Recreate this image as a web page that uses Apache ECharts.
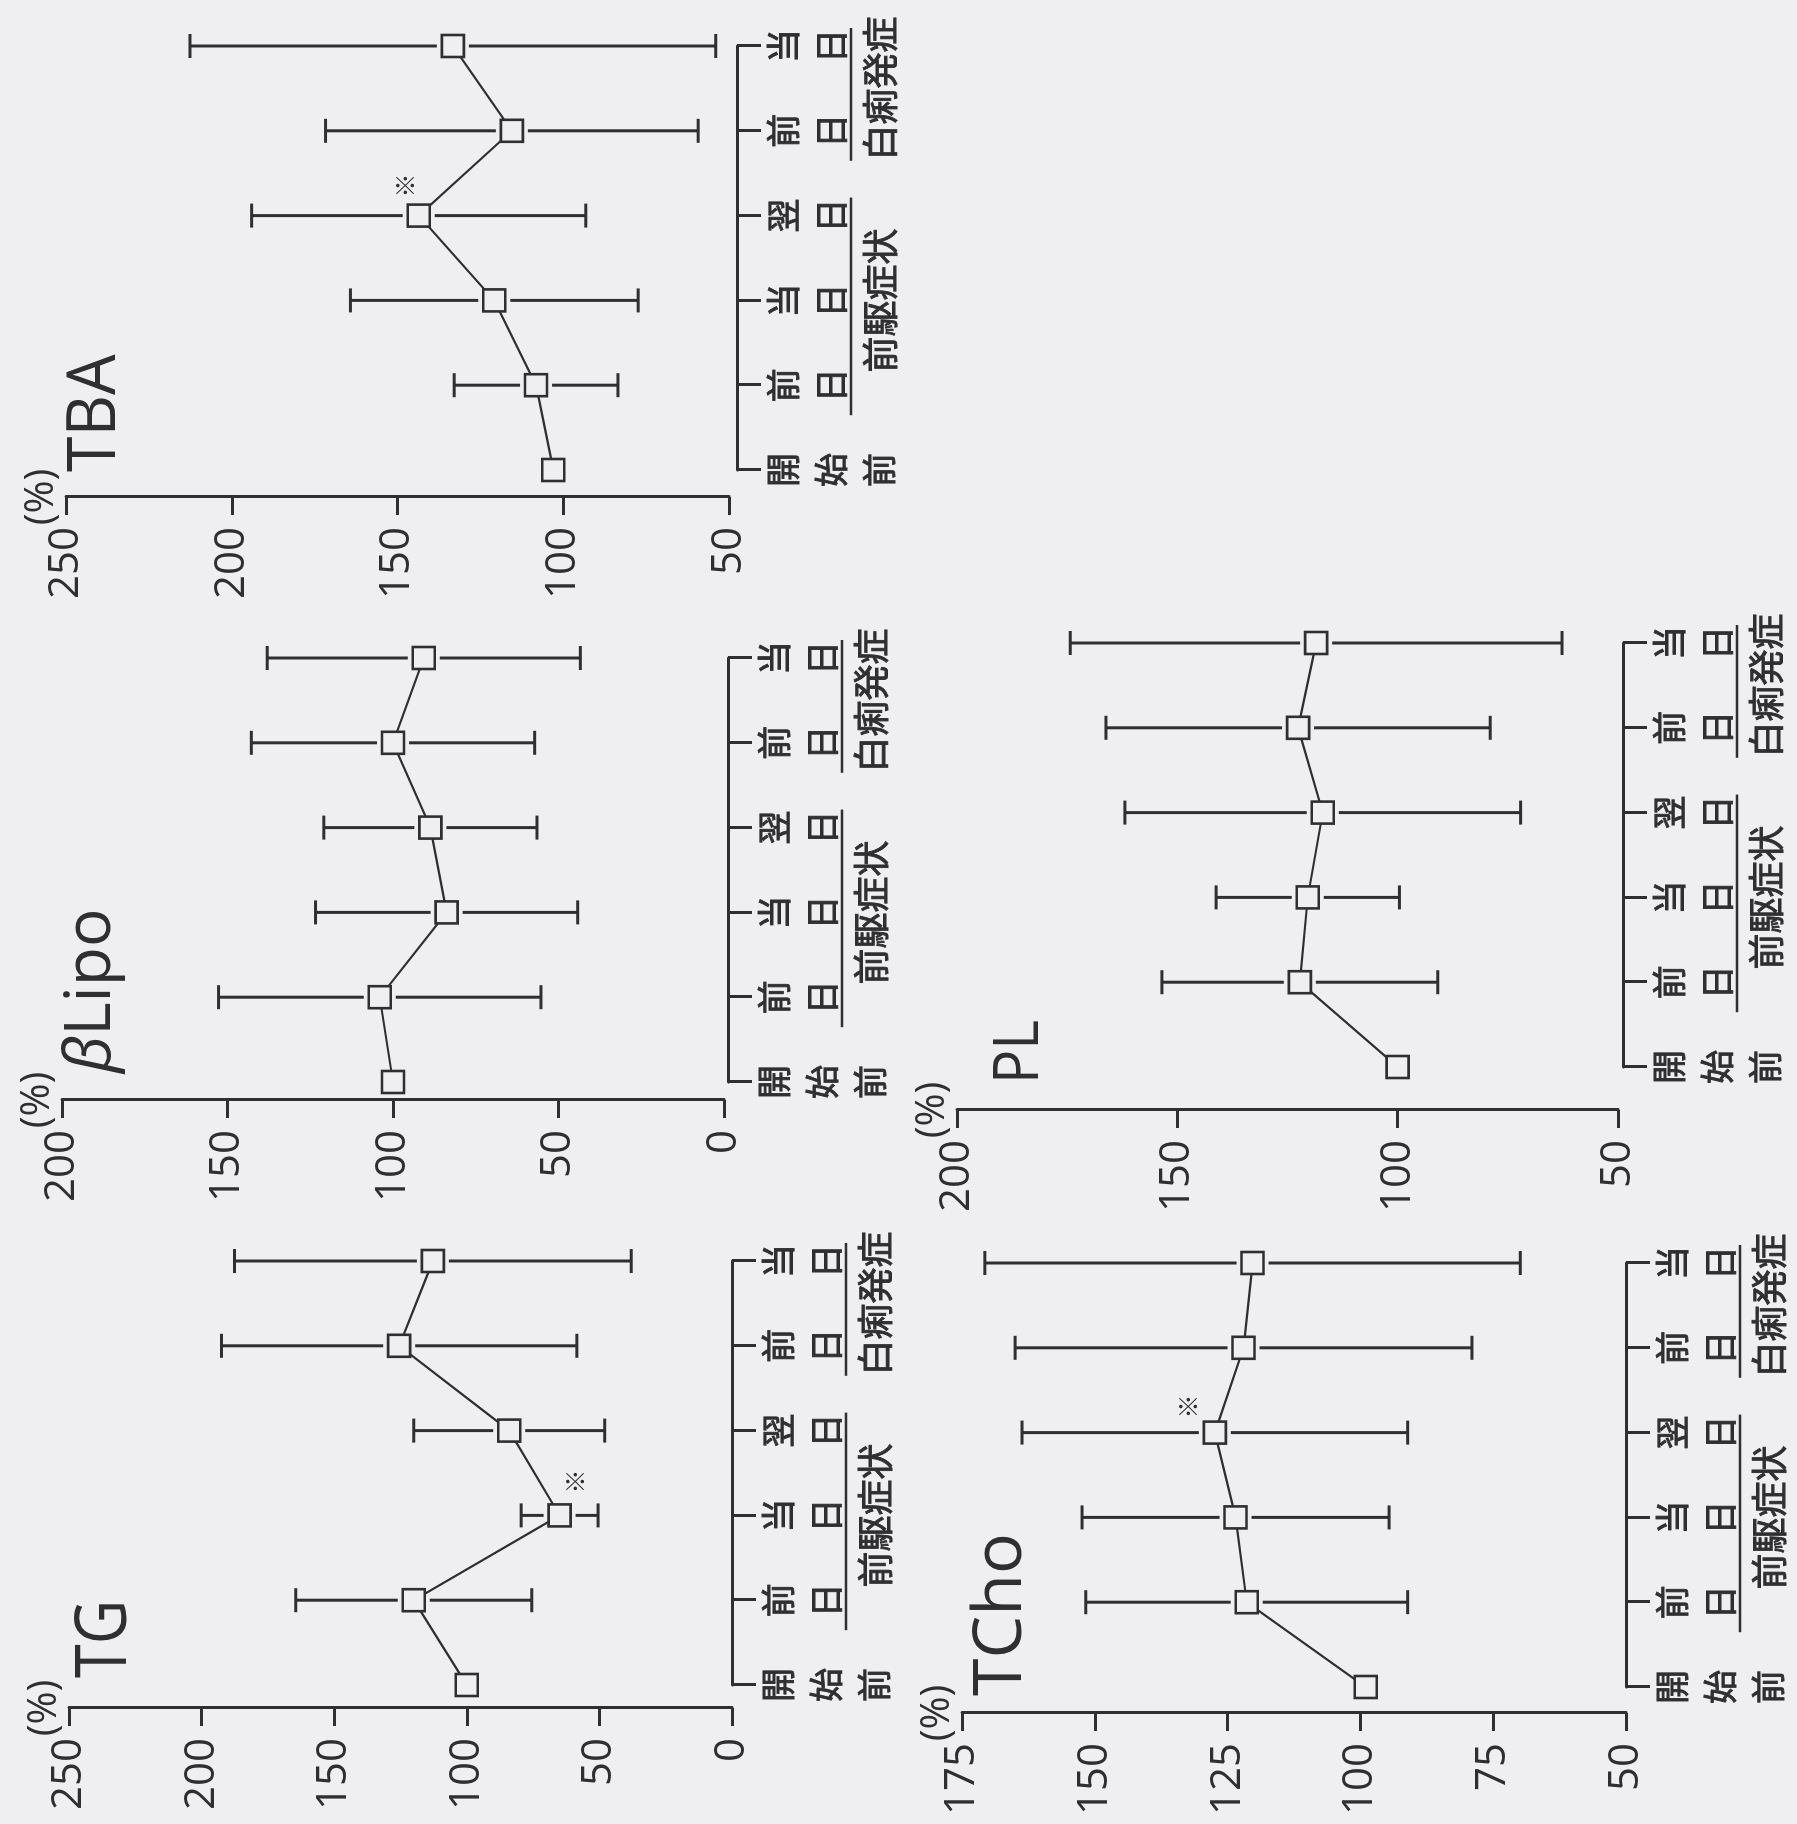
<!DOCTYPE html>
<html>
<head>
<meta charset="utf-8">
<script src="https://cdn.jsdelivr.net/npm/echarts@6/dist/echarts.min.js"></script>
<style>
  html, body { margin: 0; padding: 0; background: #efeef0; overflow: hidden; }
  #page { position: absolute; left: 0; top: 0; width: 1797px; height: 1824px; overflow: hidden; background: #efeef0; }
  /* the figure is typeset sideways: draw it upright, then turn the sheet a quarter turn */
  #chart { position: absolute; left: 0; top: 0; width: 1824px; height: 1797px;
           transform-origin: 0 0; transform: translateY(1824px) rotate(-90deg); }
</style>
</head>
<body>
<div id="page"><div id="chart"></div></div>
<script>
// sampling days (each character on its own line)
const categories = ['開\n始\n前', '前\n日', '当\n日', '翌\n日', '前\n日', '当\n日'];
// grouping of the days: [first index, last index]
const groupSpans = [[1, 3], [4, 5]];
const groupLabels = ['前駆症状', '白痢発症'];

// TG (% of pre-start value): mean and SD
const tgMean = [100, 120, 65, 84, 125.5, 112.8];
const tgSd = [0, 44.5, 14.5, 36, 67, 74.8];
const tgMarked = [2];
const tgTicks = [0, 50, 100, 150, 200, 250];

// beta-lipoprotein
const lipoMean = [100, 104, 83.8, 88.7, 100, 90.7];
const lipoSd = [0, 48.7, 39.6, 32.2, 42.8, 47.3];
const lipoMarked = [];
const lipoTicks = [0, 50, 100, 150, 200];

// total bile acids
const tbaMean = [103, 108.2, 120.8, 143.6, 115.5, 133.3];
const tbaSd = [0, 24.7, 43.4, 50.4, 56.2, 79.3];
const tbaMarked = [3];
const tbaTicks = [50, 100, 150, 200, 250];

// total cholesterol
const tchoMean = [99, 121.4, 123.5, 127.4, 122, 120.3];
const tchoSd = [0, 30.3, 28.9, 36.3, 43, 50.4];
const tchoMarked = [3];
const tchoTicks = [50, 75, 100, 125, 150, 175];

// phospholipids
const plMean = [100, 122.2, 120.4, 117, 122.6, 118.5];
const plSd = [0, 31.3, 20.8, 44.9, 43.6, 55.8];
const plMarked = [];
const plTicks = [50, 100, 150, 200];

const W = 1824, H = 1797;
const INK = '#2f2f31';
const BG = '#efeef0';
const SANS = "'Open Sans', sans-serif";
const CJK = "'Noto Sans CJK JP', sans-serif";

// panel layout in the upright drawing (px)
const panels = [
  { title: 'TG', mean: tgMean, sd: tgSd, marked: tgMarked, ticks: tgTicks,
    axisX: 116, catFirst: 139, catLast: 563, yTop: 69, yBot: 732, xOff: 0,
    titleX: 146, titleY: 105, titleSize: 72, titleScale: 0.85, starDx: 34, starDy: 15 },
  { title: 'Lipo', beta: true, mean: lipoMean, sd: lipoSd, marked: lipoMarked, ticks: lipoTicks,
    axisX: 724, catFirst: 742, catLast: 1166, yTop: 62, yBot: 724, xOff: 4,
    titleX: 751, titleY: 92, titleSize: 64, titleScale: 1, starDx: 30, starDy: -14 },
  { title: 'TBA', mean: tbaMean, sd: tbaSd, marked: tbaMarked, ticks: tbaTicks,
    axisX: 1327, catFirst: 1354, catLast: 1778, yTop: 66, yBot: 729, xOff: 8,
    titleX: 1352, titleY: 96, titleSize: 67, titleScale: 0.96, starDx: 30, starDy: -14 },
  { title: 'TCho', mean: tchoMean, sd: tchoSd, marked: tchoMarked, ticks: tchoTicks,
    axisX: 111, catFirst: 137, catLast: 561, yTop: 962, yBot: 1626, xOff: 0,
    titleX: 128, titleY: 1002, titleSize: 68, titleScale: 1, starDx: 26, starDy: -27 },
  { title: 'PL', mean: plMean, sd: plSd, marked: plMarked, ticks: plTicks,
    axisX: 714, catFirst: 757, catLast: 1181, yTop: 957, yBot: 1618, xOff: 5,
    titleX: 740, titleY: 1020, titleSize: 62, titleScale: 0.92, starDx: 30, starDy: -14 }
];

const grid = [], xAxis = [], yAxis = [], series = [], graphic = [];

panels.forEach((p, i) => {
  const tMin = p.ticks[0], tMax = p.ticks[p.ticks.length - 1];
  const step = p.ticks[1] - p.ticks[0];

  grid.push({ left: p.catFirst, right: W - p.catLast, top: p.yTop, bottom: H - p.yBot, containLabel: false });

  xAxis.push({
    gridIndex: i, type: 'category', data: categories, boundaryGap: false, offset: p.xOff,
    axisLine: { show: true, onZero: false, lineStyle: { color: INK, width: 3 } },
    axisTick: { show: true, length: 24, lineStyle: { color: INK, width: 3 } },
    axisLabel: { interval: 0, margin: 22, fontSize: 34, lineHeight: 48, fontFamily: CJK,
                 color: INK, verticalAlign: 'top', textBorderColor: INK, textBorderWidth: 0.9 },
    splitLine: { show: false }
  });

  yAxis.push({
    gridIndex: i, type: 'value', min: tMin, max: tMax, interval: step,
    offset: p.catFirst - p.axisX,
    name: '(%)', nameLocation: 'end', nameGap: 24, nameMoveOverlap: false,
    nameTextStyle: { fontSize: 40, fontFamily: SANS, color: INK, align: 'center',
                     verticalAlign: 'middle', lineHeight: 40 },
    axisLine: { show: true, onZero: false, lineStyle: { color: INK, width: 3 } },
    axisTick: { show: true, length: 18, lineStyle: { color: INK, width: 3 } },
    axisLabel: { margin: 30, fontSize: 42, fontFamily: SANS, color: INK },
    splitLine: { show: false }
  });

  // SD whiskers, broken around the square marker
  series.push({
    type: 'custom', xAxisIndex: i, yAxisIndex: i, z: 2, clip: false, silent: true,
    data: p.mean.map((m, k) => [k, m, p.sd[k]]).filter(d => d[2] > 0),
    renderItem: (params, api) => {
      const k = api.value(0), m = api.value(1), s = api.value(2);
      const c = api.coord([k, m]);
      const hi = api.coord([k, m + s]);
      const lo = api.coord([k, m - s]);
      const gap = 16, cap = 12;
      const st = { stroke: INK, lineWidth: 3 };
      return { type: 'group', children: [
        { type: 'line', shape: { x1: c[0], y1: hi[1], x2: c[0], y2: c[1] - gap }, style: st },
        { type: 'line', shape: { x1: c[0], y1: c[1] + gap, x2: c[0], y2: lo[1] }, style: st },
        { type: 'line', shape: { x1: c[0] - cap, y1: hi[1], x2: c[0] + cap, y2: hi[1] }, style: st },
        { type: 'line', shape: { x1: c[0] - cap, y1: lo[1], x2: c[0] + cap, y2: lo[1] }, style: st }
      ] };
    }
  });

  // mean profile with open squares
  series.push({
    type: 'line', xAxisIndex: i, yAxisIndex: i, z: 4, data: p.mean,
    symbol: 'rect', symbolSize: 22, showAllSymbol: true,
    lineStyle: { color: INK, width: 2.2 },
    itemStyle: { color: BG, borderColor: INK, borderWidth: 2.6 },
    emphasis: { disabled: true }, silent: true
  });

  // significance marks
  if (p.marked.length) {
    series.push({
      type: 'custom', xAxisIndex: i, yAxisIndex: i, z: 5, clip: false, silent: true,
      data: p.marked.map(k => [k, p.mean[k]]),
      renderItem: (params, api) => {
        const c = api.coord([api.value(0), api.value(1)]);
        return { type: 'text', style: { text: '※', x: c[0] + p.starDx, y: c[1] + p.starDy,
                 fill: INK, font: '24px ' + CJK, align: 'center', verticalAlign: 'middle' } };
      }
    });
  }

  // bracket lines and labels for the day groups
  series.push({
    type: 'custom', xAxisIndex: i, yAxisIndex: i, z: 3, clip: false, silent: true,
    data: groupSpans.map((g, j) => [g[0], g[1], j]),
    renderItem: (params, api) => {
      const a = api.coord([api.value(0), tMin]);
      const b = api.coord([api.value(1), tMin]);
      const base = a[1] + p.xOff;
      const yLine = base + 114;
      return { type: 'group', children: [
        { type: 'line', shape: { x1: a[0] - 30, y1: yLine, x2: b[0] + 18, y2: yLine },
          style: { stroke: INK, lineWidth: 2.6 } },
        { type: 'text', style: { text: groupLabels[api.value(2)], x: (a[0] + b[0]) / 2, y: base + 143,
          fill: INK, font: '36px ' + CJK, align: 'center', verticalAlign: 'middle',
          stroke: INK, lineWidth: 0.9 } }
      ] };
    }
  });

  // panel heading
  graphic.push({
    type: 'text', x: p.titleX, y: p.titleY, scaleX: p.titleScale, silent: true,
    style: p.beta
      ? { text: '{b|β}' + p.title, fill: INK, font: p.titleSize + 'px ' + SANS, verticalAlign: 'middle',
          rich: { b: { fontStyle: 'italic', fontSize: p.titleSize, fontFamily: SANS, fill: INK } } }
      : { text: p.title, fill: INK, font: p.titleSize + 'px ' + SANS, verticalAlign: 'middle' }
  });
});

const chart = echarts.init(document.getElementById('chart'), null, { renderer: 'canvas', width: W, height: H });
chart.setOption({
  backgroundColor: BG,
  animation: false,
  grid, xAxis, yAxis, series, graphic
});
</script>
</body>
</html>
